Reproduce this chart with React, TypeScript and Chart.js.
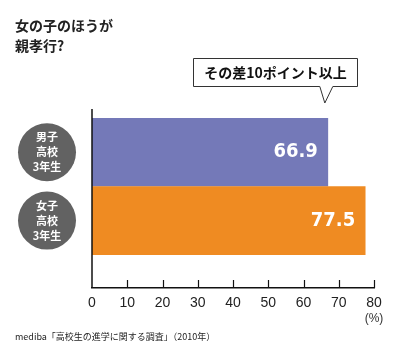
import { useEffect, useRef } from "react";
import { Chart, registerables } from "chart.js";

Chart.register(...registerables);

const titleLines = ["女の子のほうが", "親孝行?"];
const categories = [
  ["男子", "高校", "3年生"],
  ["女子", "高校", "3年生"],
];
const values = [66.9, 77.5];
const barColors = ["#7479B8", "#EF8B22"];
const xMin = 0;
const xMax = 80;
const xStep = 10;
const unitLabel = "(%)";
const calloutText = "その差10ポイント以上";
const sourceText = "mediba「高校生の進学に関する調査」（2010年）";

const CJK = "'Noto Sans CJK JP', 'Noto Sans', sans-serif";

const decorPlugin = {
  id: "decor",
  afterDraw(chart: any) {
    const { ctx, chartArea, scales } = chart;
    const x = scales.x;
    const y = scales.y;
    ctx.save();

    // left axis line
    ctx.strokeStyle = "#111";
    ctx.lineWidth = 1.5;
    ctx.beginPath();
    ctx.moveTo(chartArea.left, chartArea.top);
    ctx.lineTo(chartArea.left, chartArea.bottom);
    ctx.stroke();

    // tick marks pointing up
    ctx.lineWidth = 1.2;
    x.ticks.forEach((t: any) => {
      if (t.value === xMin) return;
      const px = Math.round(x.getPixelForValue(t.value)) + 0.5;
      ctx.beginPath();
      ctx.moveTo(px, chartArea.bottom);
      ctx.lineTo(px, chartArea.bottom - 8);
      ctx.stroke();
    });

    // category circles
    categories.forEach((lines, i) => {
      const cy = y.getPixelForValue(i);
      ctx.fillStyle = "#626262";
      ctx.beginPath();
      ctx.arc(47, cy, 29, 0, Math.PI * 2);
      ctx.fill();
      ctx.fillStyle = "#ffffff";
      ctx.font = `bold 11px ${CJK}`;
      ctx.textAlign = "center";
      ctx.textBaseline = "middle";
      lines.forEach((ln, j) => {
        ctx.fillText(ln, 47, cy + (j - 1) * 15);
      });
    });

    // value labels
    values.forEach((v, i) => {
      const cy = y.getPixelForValue(i);
      const px = x.getPixelForValue(v);
      ctx.fillStyle = "#ffffff";
      ctx.font = "bold 20px 'DejaVu Sans Condensed', 'DejaVu Sans', sans-serif";
      ctx.textAlign = "right";
      ctx.textBaseline = "middle";
      ctx.fillText(v.toFixed(1), px - 10, cy);
    });

    // title
    ctx.fillStyle = "#222";
    ctx.font = `bold 14px ${CJK}`;
    ctx.textAlign = "left";
    ctx.textBaseline = "middle";
    titleLines.forEach((ln, j) => {
      ctx.fillText(ln, 15, 26 + j * 20);
    });

    // callout
    const tipX = x.getPixelForValue(values[0]) - 3;
    const bx0 = 193.5, bx1 = 357.5, by0 = 58.5, by1 = 86.5;
    ctx.fillStyle = "#fff";
    ctx.strokeStyle = "#333";
    ctx.lineWidth = 1;
    ctx.beginPath();
    ctx.moveTo(bx0, by0);
    ctx.lineTo(bx1, by0);
    ctx.lineTo(bx1, by1);
    ctx.lineTo(tipX + 8, by1);
    ctx.lineTo(tipX, 103);
    ctx.lineTo(tipX - 5, by1);
    ctx.lineTo(bx0, by1);
    ctx.closePath();
    ctx.fill();
    ctx.stroke();
    ctx.fillStyle = "#111";
    ctx.font = `bold 14px ${CJK}`;
    ctx.textAlign = "center";
    ctx.textBaseline = "middle";
    ctx.fillText(calloutText, (bx0 + bx1) / 2, 73);

    // unit
    ctx.fillStyle = "#333";
    ctx.font = "12px 'Liberation Sans Narrow', 'Liberation Sans', sans-serif";
    ctx.textAlign = "center";
    ctx.fillText(unitLabel, 374, 319);

    // source
    ctx.fillStyle = "#222";
    ctx.font = `9px ${CJK}`;
    ctx.textAlign = "left";
    ctx.fillText(sourceText, 15, 337);

    ctx.restore();
  },
};

export default function App() {
  const ref = useRef<HTMLCanvasElement>(null);
  useEffect(() => {
    if (!ref.current) return;
    const chart = new Chart(ref.current, {
      type: "bar",
      data: {
        datasets: [
          {
            data: values.map((v, i) => ({ x: v, y: i })),
            backgroundColor: barColors,
            barThickness: 68,
          },
        ],
      },
      options: {
        indexAxis: "y",
        responsive: false,
        animation: false,
        layout: { padding: { left: 92, right: 26, top: 109, bottom: 0 } },
        plugins: { legend: { display: false }, tooltip: { enabled: false } },
        scales: {
          x: {
            type: "linear",
            min: xMin,
            max: xMax,
            ticks: {
              stepSize: xStep,
              color: "#222",
              padding: 7,
              font: { family: "'Liberation Sans Narrow', 'Liberation Sans', sans-serif", size: 14 },
            },
            grid: { display: false, drawTicks: false },
            border: { display: true, color: "#111", width: 1.5 },
            afterFit: (s: any) => {
              s.height = 69;
            },
          },
          y: {
            type: "linear",
            display: false,
            reverse: true,
            min: -0.415,
            max: 1.768,
          },
        },
      } as any,
      plugins: [decorPlugin],
    });
    return () => chart.destroy();
  }, []);
  return (
    <div style={{ position: "absolute", left: 0, top: 0, width: 400, height: 357, background: "#fff" }}>
      <canvas ref={ref} width={400} height={357} />
    </div>
  );
}
